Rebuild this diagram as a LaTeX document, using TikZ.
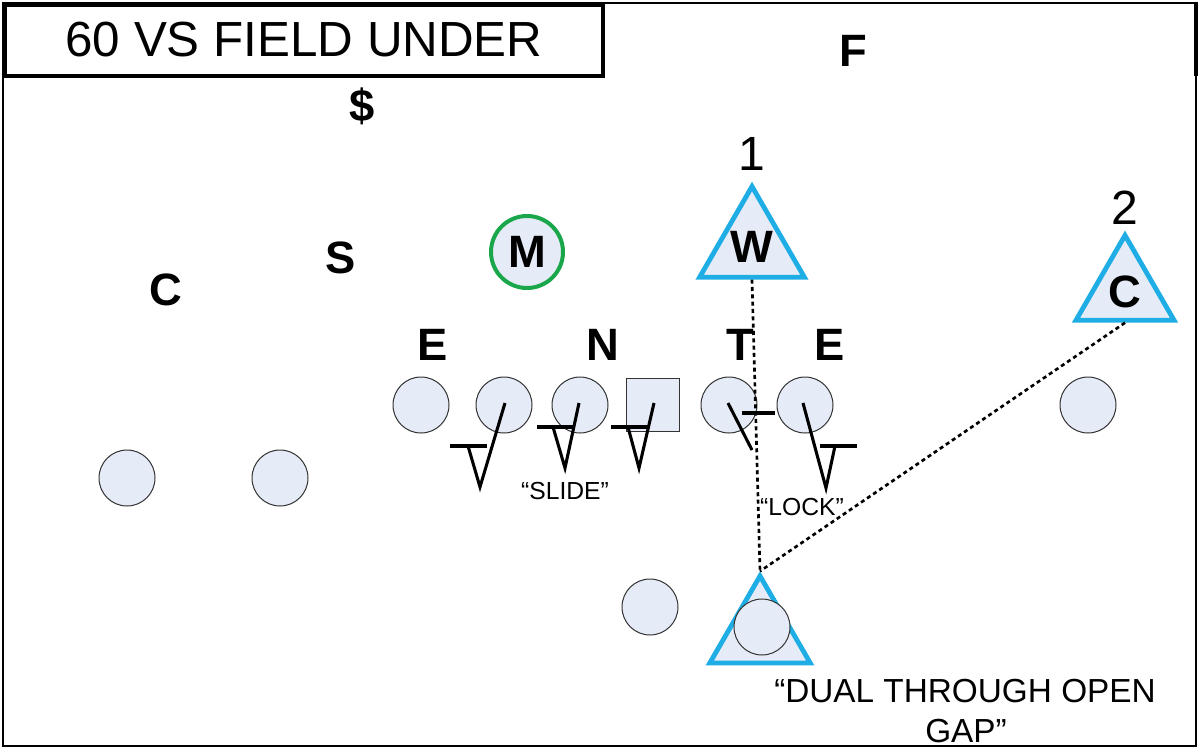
\documentclass[tikz,border=0pt]{standalone}
\usepackage{fontspec}
\setmainfont{Liberation Sans}
\usetikzlibrary{shapes.geometric}
\definecolor{pfill}{HTML}{E6ECF7}
\definecolor{cyanline}{HTML}{1EADE4}
\definecolor{mgreen}{HTML}{1AA64A}
\tikzset{
  player/.style={circle,draw=black!80,line width=0.75pt,fill=pfill,minimum size=42pt,inner sep=0pt},
  centerbox/.style={rectangle,draw=black!80,line width=0.75pt,fill=pfill,minimum size=40pt,inner sep=0pt},
  lb/.style={regular polygon,regular polygon sides=3,draw=cyanline,line width=3.6pt,fill=pfill,minimum size=85pt,inner sep=0pt,font=\fontsize{34}{40}\selectfont\bfseries},
  dlabel/.style={font=\fontsize{34}{40}\selectfont\bfseries,inner sep=0pt},
  numlabel/.style={font=\fontsize{36}{42}\selectfont,inner sep=0pt},
  calllabel/.style={font=\fontsize{18.5}{22}\selectfont,inner sep=0pt,anchor=base},
  blockline/.style={line width=2.3pt,line join=miter},
  readline/.style={line width=2pt,dash pattern=on 3pt off 2.5pt}
}
\begin{document}
\begin{tikzpicture}[x=0.75pt,y=-0.75pt]
\useasboundingbox (0,0) rectangle (1200,749);
% frame
\draw[line width=1.5pt] (3,3) rectangle (1196,746);
\draw[line width=3pt] (1196,2) -- (1196,76);
\draw[line width=3pt,fill=white] (5,5) rectangle (603,76);
\node[font=\fontsize{37}{44}\selectfont,inner sep=0pt] (title) at (304,40) {60 VS FIELD UNDER};

% defense labels
\node[dlabel] (F) at (853,51) {F};
\node[dlabel] (dollar) at (362,106) {\$};
\node[dlabel] (Cl) at (166,290) {C};
\node[dlabel] (S) at (341,258) {S};
\node[dlabel] (E1) at (433,345) {E};
\node[dlabel] (N) at (603,345) {N};
\node[dlabel] (T) at (740,345) {T};
\node[dlabel] (E2) at (830,345) {E};
\node[circle,draw=mgreen,line width=3pt,fill=pfill,minimum size=54pt,inner sep=0pt,font=\fontsize{34}{40}\selectfont\bfseries] (M) at (527,252) {M};

% triangles
\node[lb] (W) at (752,247) {W};
\node[lb] (Ct) at (1125,292) {C};
\node[numlabel] (one) at (752,154) {1};
\node[numlabel] (two) at (1125,208) {2};

% offense
\node[player] (LT) at (421,405) {};
\node[player] (LG) at (504,405) {};
\node[player] (Cn) at (580,405) {};
\node[centerbox] (Q) at (653,405) {};
\node[player] (RG) at (729,405) {};
\node[player] (RT) at (805,405) {};
\node[player] (TE) at (1088,405) {};
\node[player] (WR1) at (127,478) {};
\node[player] (WR2) at (280,478) {};
\node[player] (RB) at (650,607) {};
\node[lb,minimum size=87pt] (D) at (760,634) {};
\node[player] (QB) at (762,627) {};

% blocks
\draw[blockline] (LG.center) ++(1,-2) -- ++(-25,84) -- ++(-12,-41);
\draw[blockline] (LG.center) ++(-54,41) -- ++(37,0);
\draw[blockline] (Cn.center) ++(-1,-2) -- ++(-14,65) -- ++(-12,-41);
\draw[blockline] (Cn.center) ++(-43,22) -- ++(36,0);
\draw[blockline] (Q.center) ++(1,-2) -- ++(-15,65) -- ++(-11,-41);
\draw[blockline] (Q.center) ++(-42,22) -- ++(36,0);
\draw[blockline] (RG.center) ++(-1,-2) -- ++(24,47);
\draw[blockline] (RG.center) ++(13,8) -- ++(33,0);
\draw[blockline] (RT.center) ++(-2,-2) -- ++(23,85) -- ++(9,-42);
\draw[blockline] (RT.center) ++(15,41) -- ++(37,0);

% reads
\draw[readline] (W.south) -- (D.corner 1);
\draw[readline] (Ct.south) -- (D.corner 1);

% calls
\node[calllabel] (slide) at (565,499) {“SLIDE”};
\node[calllabel] (lock) at (802,515) {“LOCK”};
\node[font=\fontsize{25}{30}\selectfont,inner sep=0pt,anchor=base] (dual) at (965,702) {“DUAL THROUGH OPEN};
\node[font=\fontsize{25}{30}\selectfont,inner sep=0pt,anchor=base] (gap) at (966,742) {GAP”};
\end{tikzpicture}
\end{document}
